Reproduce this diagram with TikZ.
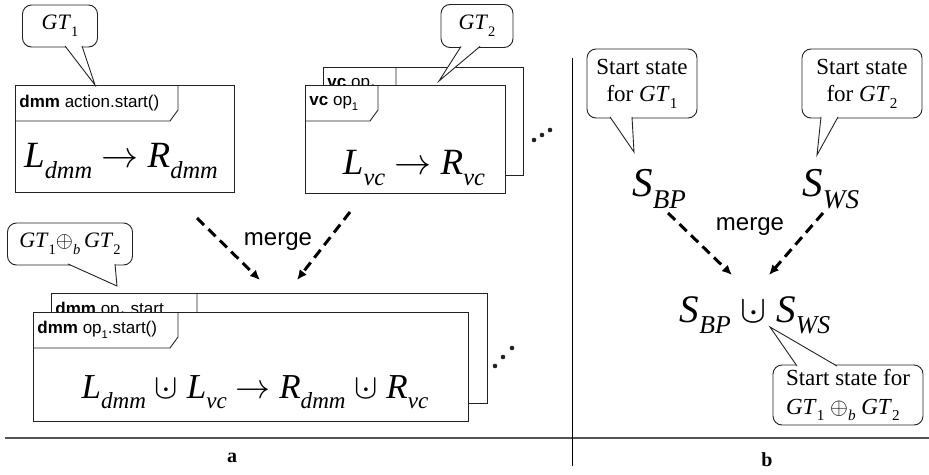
\RequirePackage{fix-cm}
\documentclass[tikz,border=0pt]{standalone}
\usepackage{fontspec}
\setmainfont{Liberation Serif}
\setsansfont{Liberation Sans}
\usepackage{graphicx}
\usetikzlibrary{arrows.meta,positioning,calc}
\definecolor{ink}{HTML}{222222}
\definecolor{rule}{HTML}{555555}

% lowered small index, italic symbols
\newcommand{\sub}[1]{\raisebox{-0.3em}{\scalebox{0.66}{#1}}}
\newcommand{\idx}[2]{\textit{#1}\sub{\textit{#2}}}
\newcommand{\gt}[1]{\textit{GT}\sub{#1}}
\newcommand{\dcup}{\ooalign{$\cup$\cr\hidewidth$\cdot$\hidewidth\cr}}
\newcommand{\oplb}{$\oplus$\sub{\textit{b}}}
\newcommand{\ra}{$\rightarrow$}

% frame with a name tab: name, x, y, width, height, tab width, label
\newcommand{\umlframe}[7]{%
  \node[box,minimum width=#4pt,minimum height=#5pt] (#1) at (#2,#3) {};
  \node[tablab] (#1tab) at ($(#1.north west)+(4,18)$) {#7};
  \draw[ink] ($(#1.north west)+(#6,0)$) -- ++(0,25) -- ++(-8,11) -- ($(#1.north west)+(0,36)$);
}

\begin{document}
\begin{tikzpicture}[x=1pt,y=-1pt,line width=0.9pt,
    box/.style={draw=ink,fill=white,inner sep=0pt,anchor=north west},
    tablab/.style={anchor=west,inner sep=0pt,font=\sffamily\fontsize{17}{17}\selectfont},
    bubble/.style={draw=ink,fill=white,rounded corners=9pt,align=center,inner sep=2pt},
    formula/.style={anchor=base,inner sep=0pt},
    mergearrow/.style={black,line width=3pt,dash pattern=on 10pt off 6pt,-{Latex[length=10pt,width=9pt]}},
    mergelab/.style={anchor=base,font=\sffamily\fontsize{24}{24}\selectfont}]
  \useasboundingbox (0,0) rectangle (929,474);

  % ---- a: two rules and their merge
  \umlframe{dmm}{15}{85}{219}{107}{163}{\textbf{dmm} action.start()}
  \node[formula,font=\fontsize{37}{37}\selectfont] (fdmm) at (121,167)
    {\idx{L}{dmm} \ra\ \idx{R}{dmm}};

  \umlframe{vcback}{323}{67}{200}{108}{73}{\textbf{vc} op\sub{1}}
  \umlframe{vc}{305}{85}{200}{108}{73}{\textbf{vc} op\sub{1}}
  \node[formula,font=\fontsize{37}{37}\selectfont] (fvc) at (414,174)
    {\idx{L}{vc} \ra\ \idx{R}{vc}};
  \foreach \px/\py in {534/140,542/135,550/130}
    \fill[ink] (\px,\py) circle (2.3);

  \umlframe{mback}{51}{293}{436}{110}{146}{\textbf{dmm} op\sub{1}.start}
  \umlframe{mfront}{33}{312}{435}{109}{145}{\textbf{dmm} op\sub{1}.start()}
  \node[formula,font=\fontsize{35}{35}\selectfont] (fmerge) at (255,398)
    {\idx{L}{dmm} \dcup\ \idx{L}{vc} \ra\ \idx{R}{dmm} \dcup\ \idx{R}{vc}};
  \foreach \px/\py in {495/366,503/357,512/348}
    \fill[ink] (\px,\py) circle (2.3);

  \node[bubble,minimum width=75pt,minimum height=42pt,font=\fontsize{22}{24}\selectfont] (gtone) at (60,26) {\gt{1}};
  \draw[ink,fill=white] ($(gtone.south)+(5,-1.5)$) -- ($(dmm.north west)+(80,0)$) -- ($(gtone.south)+(22,-1.5)$);
  \node[bubble,minimum width=72pt,minimum height=43pt,font=\fontsize{22}{24}\selectfont] (gttwo) at (477,26) {\gt{2}};
  \draw[ink,fill=white] ($(gttwo.south)+(-16,-1.5)$) -- ($(vc.north west)+(134,-4)$) -- ($(gttwo.south)+(3,-1.5)$);
  \node[bubble,minimum width=125pt,minimum height=42pt,font=\fontsize{22}{24}\selectfont] (gtm) at (70,244) {\gt{1}\oplb\,\gt{2}};
  \draw[ink,fill=white] ($(gtm.south)+(-2,-1.5)$) -- ($(mback.north west)+(66,-7)$) -- ($(gtm.south)+(45,-1.5)$);

  \coordinate (la1) at (197,218);
  \coordinate (la2) at (260,280);
  \coordinate (ra1) at (350,212);
  \coordinate (ra2) at (297,280);
  \draw[mergearrow] (la1) -- (la2);
  \draw[mergearrow] (ra1) -- (ra2);
  \node[mergelab] (mla) at (278,245) {merge};

  % ---- b: start states
  \node[anchor=base west,inner sep=0pt,font=\fontsize{41}{41}\selectfont] (sbp) at (632,196) {\idx{S}{BP}};
  \node[anchor=base west,inner sep=0pt,font=\fontsize{41}{41}\selectfont] (sws) at (802,196) {\idx{S}{WS}};
  \node[formula,font=\fontsize{39}{39}\selectfont] (sboth) at (755,322)
    {\idx{S}{BP} \dcup\ \idx{S}{WS}};

  \node[bubble,minimum width=110pt,minimum height=69pt,font=\fontsize{23}{27}\selectfont] (sone) at (642,83.5) {Start state\\for \gt{1}};
  \draw[ink,fill=white] ($(sone.south)+(-32,-1.5)$) -- (634,152) -- ($(sone.south)+(-10,-1.5)$);
  \node[bubble,minimum width=120pt,minimum height=69pt,font=\fontsize{23}{27}\selectfont] (stwo) at (862,83.5) {Start state\\for \gt{2}};
  \draw[ink,fill=white] ($(stwo.south)+(-41,-1.5)$) -- (817,155) -- ($(stwo.south)+(-24,-1.5)$);
  \node[bubble,align=left,minimum width=150pt,minimum height=60pt,font=\fontsize{23}{29}\selectfont] (sthree) at (848,395) {Start state for\\\gt{1} \oplb\ \gt{2}};
  \draw[ink,fill=white] ($(sthree.north)+(-51,1.5)$) -- (770,327) -- ($(sthree.north)+(-11,1.5)$);

  \coordinate (lb1) at (668,213);
  \coordinate (lb2) at (732,275);
  \coordinate (rb1) at (823,213);
  \coordinate (rb2) at (769,275);
  \draw[mergearrow] (lb1) -- (lb2);
  \draw[mergearrow] (rb1) -- (rb2);
  \node[mergelab] (mlb) at (750,230) {merge};

  % ---- separators and captions
  \draw[rule,line width=1.3pt] (5,438) -- (929,438);
  \draw[black,line width=1pt] (572,58) -- (572,466);
  \node[font=\bfseries\fontsize{20}{20}\selectfont] (capa) at (232,458) {a};
  \node[font=\bfseries\fontsize{20}{20}\selectfont] (capb) at (767,460) {b};
\end{tikzpicture}
\end{document}
